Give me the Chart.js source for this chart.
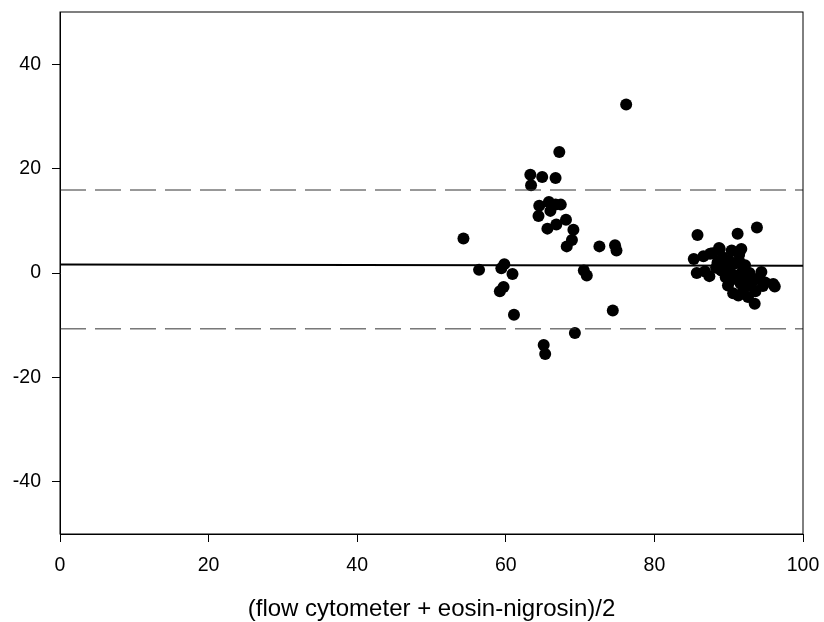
<!DOCTYPE html>
<html>
<head>
<meta charset="utf-8">
<script src="https://cdn.jsdelivr.net/npm/chart.js@4"></script>
<style>
  body { margin: 0; background: #fff; }
  canvas { display: block; }
</style>
</head>
<body>
<canvas id="baChart" width="824" height="622"></canvas>
<script>
// mean of the two methods (x) and their difference (y)
const avgValues = [
  76.2, 67.2, 63.3, 64.9, 66.7, 63.4, 64.5, 65.8, 66.7, 67.4, 66.0, 64.4, 68.1, 66.8,
  65.6, 69.1, 68.9, 68.2, 54.3, 72.6, 74.7, 74.9, 56.4, 59.8, 59.4, 60.9, 70.5, 70.9,
  59.7, 59.2, 61.1, 74.4, 69.3, 65.1, 65.3,
  85.3, 85.8, 85.7, 86.6, 86.8, 87.4, 87.5, 87.8, 88.3, 88.7, 88.8, 88.5, 89.0, 89.2,
  89.5, 89.6, 89.9, 90.0, 90.2, 90.4, 90.5, 90.6, 90.8, 91.0, 91.2, 91.3, 91.4, 91.5,
  91.6, 91.7, 91.9, 92.0, 92.2, 92.3, 92.6, 92.8, 93.0, 93.3, 93.5, 93.8, 93.6, 94.0,
  94.4, 94.6, 94.9, 96.0, 96.2
];
const diffValues = [
  32.3, 23.2, 18.8, 18.4, 18.2, 16.8, 12.9, 13.6, 13.1, 13.1, 11.9, 10.9, 10.2, 9.3,
  8.5, 8.3, 6.3, 5.1, 6.6, 5.1, 5.3, 4.3, 0.6, 1.7, 0.9, -0.2, 0.5, -0.5,
  -2.7, -3.5, -8.0, -7.2, -11.5, -13.8, -15.5,
  2.7, 7.3, 0.0, 3.2, 0.3, -0.6, 3.7, 3.8, 1.0, 4.8, 4.6, 2.0, 0.5, 3.0,
  1.5, -0.8, -2.4, 2.5, 0.2, 4.3, -1.2, -3.9, 1.8, -0.5, 7.5, -4.3, 3.5, 2.0,
  -2.0, 4.6, 0.5, -3.0, 1.5, -1.0, -4.6, 0.0, -2.5, -1.5, -5.9, 8.7, -3.5, -1.0,
  0.2, -2.5, -1.8, -2.1, -2.6
];

const lineX = [0, 100];
const meanLine = [1.63, 1.38];
const upperLimit = [15.9, 15.9];
const lowerLimit = [-10.7, -10.7];

const xTicks = [0, 20, 40, 60, 80, 100];
const yTicks = [-40, -20, 0, 20, 40];

const toPoints = (xs, ys) => xs.map((x, i) => ({ x: x, y: ys[i] }));

const frame = {
  id: 'frame',
  afterDraw(chart) {
    const a = chart.chartArea;
    const c = chart.ctx;
    c.save();
    c.strokeStyle = '#000';
    c.lineWidth = 1;
    c.strokeRect(a.left, a.top, a.right - a.left, a.bottom - a.top);
    c.restore();
  }
};

const fontFamily = "'Liberation Sans', Arial, sans-serif";
const tickFont = { family: fontFamily, size: 19.5 };

new Chart(document.getElementById('baChart').getContext('2d'), {
  type: 'scatter',
  data: {
    datasets: [
      {
        label: 'upper',
        type: 'line',
        data: toPoints(lineX, upperLimit),
        borderColor: '#333',
        borderWidth: 1,
        borderDash: [26, 9],
        pointRadius: 0,
        fill: false
      },
      {
        label: 'lower',
        type: 'line',
        data: toPoints(lineX, lowerLimit),
        borderColor: '#333',
        borderWidth: 1,
        borderDash: [26, 9],
        pointRadius: 0,
        fill: false
      },
      {
        label: 'mean',
        type: 'line',
        data: toPoints(lineX, meanLine),
        borderColor: '#000',
        borderWidth: 2,
        pointRadius: 0,
        fill: false
      },
      {
        label: 'difference',
        data: toPoints(avgValues, diffValues),
        backgroundColor: '#000',
        borderColor: '#000',
        borderWidth: 0,
        pointRadius: 6,
        pointHoverRadius: 6
      }
    ]
  },
  options: {
    responsive: false,
    animation: false,
    devicePixelRatio: 1,
    layout: { padding: { top: 12, right: 21, left: 0, bottom: 0 } },
    plugins: {
      legend: { display: false },
      tooltip: { enabled: false }
    },
    scales: {
      x: {
        type: 'linear',
        min: 0,
        max: 100,
        afterBuildTicks: s => { s.ticks = xTicks.map(v => ({ value: v })); },
        afterFit: s => {
          s.height = 88;
          s.paddingLeft = 0;
          s.paddingRight = 0;
        },
        grid: { drawOnChartArea: false, drawTicks: true, tickLength: 8, color: '#000' },
        border: { display: true, color: '#000', width: 1 },
        ticks: { color: '#000', font: tickFont, padding: 12, maxRotation: 0 },
        title: {
          display: true,
          text: '(flow cytometer + eosin-nigrosin)/2',
          color: '#000',
          font: { family: fontFamily, size: 24, lineHeight: 1 },
          padding: { top: 0, bottom: 1 }
        }
      },
      y: {
        type: 'linear',
        min: -50,
        max: 50,
        afterBuildTicks: s => { s.ticks = yTicks.map(v => ({ value: v })); },
        afterFit: s => {
          s.width = 60;
          s.paddingTop = 0;
          s.paddingBottom = 0;
        },
        grid: { drawOnChartArea: false, drawTicks: true, tickLength: 8, color: '#000' },
        border: { display: true, color: '#000', width: 1 },
        ticks: { color: '#000', font: tickFont, padding: 11 }
      }
    }
  },
  plugins: [frame]
});
</script>
</body>
</html>
